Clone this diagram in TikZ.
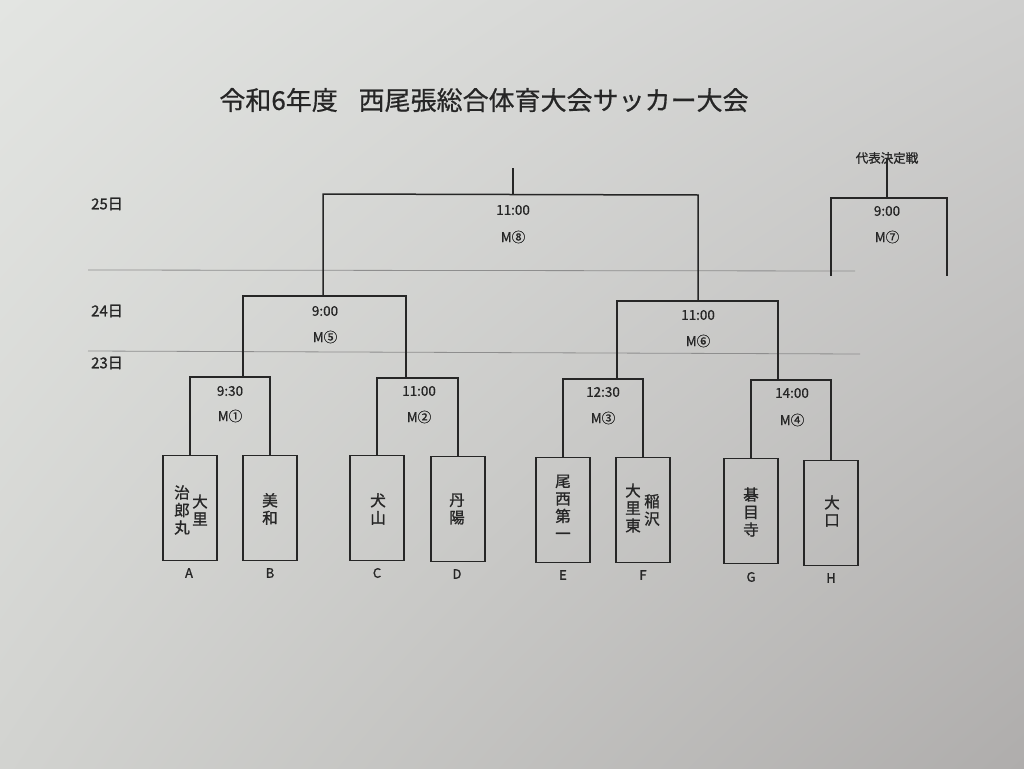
\documentclass[tikz,border=0pt]{standalone}
\usepackage{fontspec}
\usetikzlibrary{shadings}
\setmainfont{Noto Sans CJK JP}
\newfontfamily\medfont[FakeBold=0.6]{Noto Sans CJK JP}
\newfontfamily\boldfont[FakeBold=1.2]{Noto Sans CJK JP}
\definecolor{ink}{HTML}{262626}
\definecolor{grayline}{HTML}{8E8E8E}
\definecolor{bgUL}{HTML}{E3E5E2}
\definecolor{bgUR}{HTML}{CFCFCE}
\definecolor{bgLL}{HTML}{D2D3D0}
\definecolor{bgLR}{HTML}{AFADAC}
\begin{document}
\begin{tikzpicture}[x=1pt,y=-1pt]
\tikzset{
 bx/.style={draw=ink, line width=1.5pt, minimum width=54pt, minimum height=105pt, inner sep=0pt},
 br/.style={draw=ink, line width=1.5pt},
 tm/.style={font=\medfont\fontsize{13.5}{13.5}\selectfont, text=ink, inner sep=0pt},
 nm/.style={font=\boldfont\fontsize{15.5}{17.5}\selectfont, align=center, text=ink, inner sep=0pt},
 lt/.style={font=\boldfont\fontsize{13}{13}\selectfont, text=ink, inner sep=0pt},
 dayl/.style={font=\boldfont\fontsize{15}{15}\selectfont, text=ink, inner sep=0pt},
 dl/.style={draw=grayline, line width=0.8pt}
}
\useasboundingbox (0,0) rectangle (1024,768);
\shade[shading=bilinear interpolation, upper left=bgUL, upper right=bgUR, lower left=bgLL, lower right=bgLR] (0,0) rectangle (1024,768);

% title
\node[font=\medfont\fontsize{26}{26}\selectfont, text=ink, inner sep=0pt] (title) at (484,100) {令和6年度\hspace{0.8em}西尾張総合体育大会サッカー大会};

% day labels
\node[dayl] (d25) at (107,204) {25日};
\node[dayl] (d24) at (107,311) {24日};
\node[dayl] (d23) at (107,363) {23日};

% day separator lines
\coordinate (s1a) at (88,270); \coordinate (s1b) at (855,271);
\coordinate (s2a) at (88,351); \coordinate (s2b) at (860,354);
\draw[dl] (s1a) -- (s1b);
\draw[dl] (s2a) -- (s2b);

% team boxes
\node[bx] (A) at (190,508) {};
\node[bx] (B) at (270,508) {};
\node[bx] (C) at (377,508) {};
\node[bx] (D) at (458,509) {};
\node[bx] (E) at (563,510) {};
\node[bx] (F) at (643,510) {};
\node[bx] (G) at (751,511) {};
\node[bx] (H) at (831,513) {};

% team names
\node[nm] (nA1) at (200,510) {大\\里};
\node[nm] (nA2) at (182,510) {治\\郎\\丸};
\node[nm] (nB) at (270,509) {美\\和};
\node[nm] (nC) at (378,509) {犬\\山};
\node[nm] (nD) at (457,509) {丹\\陽};
\node[nm] (nE) at (563,507) {尾\\西\\第\\一};
\node[nm] (nF1) at (652,510) {稲\\沢};
\node[nm] (nF2) at (633,508) {大\\里\\東};
\node[nm] (nG) at (751,512) {碁\\目\\寺};
\node[nm] (nH) at (832,511) {大\\口};

% letters
\node[lt] (lA) at (189,573) {A};
\node[lt] (lB) at (270,573) {B};
\node[lt] (lC) at (377,573) {C};
\node[lt] (lD) at (457,574) {D};
\node[lt] (lE) at (563,575) {E};
\node[lt] (lF) at (643,575) {F};
\node[lt] (lG) at (751,577) {G};
\node[lt] (lH) at (831,578) {H};

% first round brackets
\coordinate (m1) at (230,377);
\coordinate (m2) at (419,378);
\coordinate (m3) at (603,379);
\coordinate (m4) at (792,380);
\draw[br] (A.north) -- (A.north |- m1) -- (B.north |- m1) -- (B.north);
\draw[br] (C.north) -- (C.north |- m2) -- (D.north |- m2) -- (D.north);
\draw[br] (E.north) -- (E.north |- m3) -- (F.north |- m3) -- (F.north);
\draw[br] (G.north) -- (G.north |- m4) -- (H.north |- m4) -- (H.north);
\node[tm] (t1) at (230,391) {9:30};
\node[tm] (g1) at (230,416) {M①};
\node[tm] (t2) at (419,391) {11:00};
\node[tm] (g2) at (419,417) {M②};
\node[tm] (t3) at (603,392) {12:30};
\node[tm] (g3) at (603,418) {M③};
\node[tm] (t4) at (792,393) {14:00};
\node[tm] (g4) at (792,420) {M④};

% second round
\coordinate (m5l) at (243,296); \coordinate (m5r) at (406,296);
\coordinate (m6l) at (617,301); \coordinate (m6r) at (778,301);
\draw[br] (m5l |- m1) -- (m5l) -- (m5r) -- (m5r |- m2);
\draw[br] (m6l |- m3) -- (m6l) -- (m6r) -- (m6r |- m4);
\node[tm] (t5) at (325,311) {9:00};
\node[tm] (g5) at (325,337) {M⑤};
\node[tm] (t6) at (698,315) {11:00};
\node[tm] (g6) at (698,341) {M⑥};

% final
\coordinate (m8l) at (323,194); \coordinate (m8r) at (698,195);
\coordinate (m8t) at (513,168); \coordinate (m8c) at (513,194);
\draw[br] (m8l |- m5l) -- (m8l) -- (m8r) -- (m8r |- m6l);
\draw[br] (m8t) -- (m8c);
\node[tm] (t8) at (513,210) {11:00};
\node[tm] (g8) at (513,237) {M⑧};

% representative match
\coordinate (m7l) at (831,198); \coordinate (m7r) at (947,198);
\coordinate (m7lb) at (831,276); \coordinate (m7rb) at (947,276);
\coordinate (m7c) at (887,198);
\node[font=\boldfont\fontsize{12.5}{12.5}\selectfont, text=ink, inner sep=0pt] (rep) at (887,158) {代表決定戦};
\draw[br] (rep.south) ++(0,-6) -- (m7c);
\draw[br] (m7lb) -- (m7l) -- (m7r) -- (m7rb);
\node[tm] (t7) at (887,211) {9:00};
\node[tm] (g7) at (887,237) {M⑦};
\end{tikzpicture}
\end{document}
